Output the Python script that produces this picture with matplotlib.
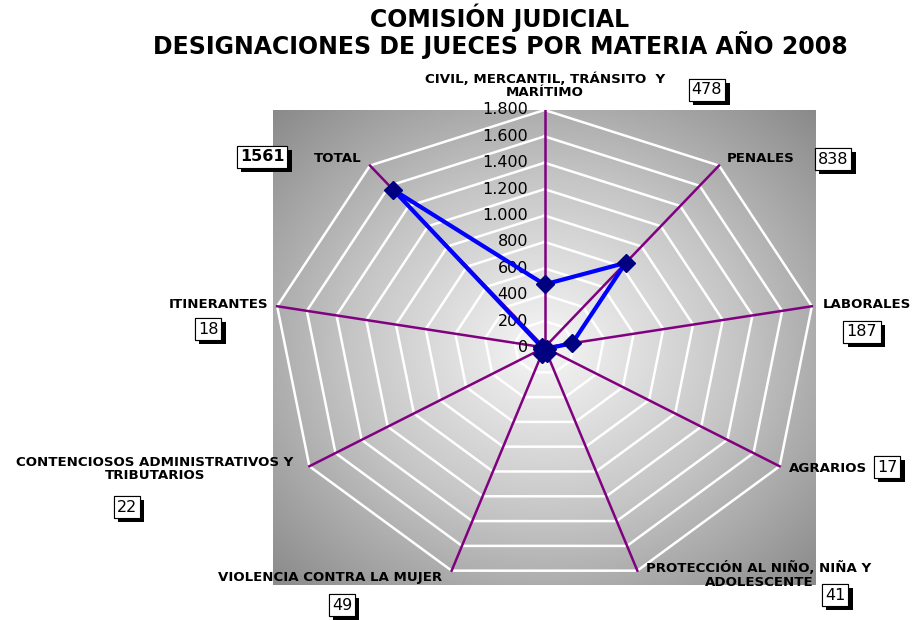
import numpy as np
import matplotlib
matplotlib.use('Agg')
import matplotlib.pyplot as plt
import matplotlib.patheffects as pe

categories = ['CIVIL, MERCANTIL, TRÁNSITO  Y\nMARÍTIMO', 'PENALES', 'LABORALES', 'AGRARIOS',
              'PROTECCIÓN AL NIÑO, NIÑA Y\nADOLESCENTE', 'VIOLENCIA CONTRA LA MUJER',
              'CONTENCIOSOS ADMINISTRATIVOS Y\nTRIBUTARIOS', 'ITINERANTES', 'TOTAL']
values = [478, 838, 187, 17, 41, 49, 22, 18, 1561]
ticks = [0, 200, 400, 600, 800, 1000, 1200, 1400, 1600, 1800]
tick_labels = ['0', '200', '400', '600', '800', '1.000', '1.200', '1.400', '1.600', '1.800']

W, H = 914, 620
fig = plt.figure(figsize=(W / 100, H / 100), dpi=100, facecolor='white')
ax = fig.add_axes([273 / W, 1 - 585 / H, 543 / W, 475 / H])
rmax = ticks[-1]
ax.set_xlim(-rmax, rmax)
ax.set_ylim(-rmax, rmax)
ax.axis('off')

# radial gradient background
g = np.linspace(-1, 1, 400)
gx, gy = np.meshgrid(g, g)
d = np.sqrt(gx ** 2 + gy ** 2) / np.sqrt(2)
ax.imshow(d, extent=(-rmax, rmax, -rmax, rmax), cmap=matplotlib.colors.LinearSegmentedColormap.from_list(
    'bg', ['#f6f6f6', '#c6c6c6', '#8a8a8a']), vmin=0, vmax=1, aspect='auto', zorder=0)

n = len(categories)
ang = np.arange(n) * 2 * np.pi / n
sx, cy = np.sin(ang), np.cos(ang)

# grid polygons
for t in ticks[1:]:
    ax.plot(np.append(t * sx, t * sx[0]), np.append(t * cy, t * cy[0]), color='white', lw=1.8, zorder=1)
# spokes
for i in range(n):
    ax.plot([0, rmax * sx[i]], [0, rmax * cy[i]], color='#800080', lw=1.8, zorder=2)

# tick labels
for t, lab in zip(ticks, tick_labels):
    ax.text(-110, t, lab, ha='right', va='center', fontsize=11.5, color='black', zorder=3)

v = np.array(values, dtype=float)
ax.plot(np.append(v * sx, v[0] * sx[0]), np.append(v * cy, v[0] * cy[0]), color='#0000ff', lw=3, zorder=4)
ax.plot(v * sx, v * cy, 'D', color='#000080', ms=9, zorder=5)

# title
fig.text(500 / W, 1 - 18 / H, 'COMISIÓN JUDICIAL', ha='center', va='center', fontsize=17, fontweight='bold')
fig.text(500 / W, 1 - 45 / H, 'DESIGNACIONES DE JUECES POR MATERIA AÑO 2008', ha='center', va='center',
         fontsize=17, fontweight='bold')

# category labels (x, y, ha)
label_pos = [(545, 86, 'center'), (727, 158, 'left'), (823, 305, 'left'), (789, 468, 'left'),
             (759, 575, 'center'), (330, 577, 'center'), (155, 469, 'center'), (268, 305, 'right'),
             (362, 158, 'right')]
box_pos = [(707, 90), (833, 159), (862, 332), (887, 467), (835, 595), (342, 605), (127, 507), (208, 329),
           (262, 157)]
for i in range(n):
    x, y, ha = label_pos[i]
    fig.text(x / W, 1 - y / H, categories[i], ha=ha, va='center', fontsize=9.6, fontweight='bold',
             multialignment='center', linespacing=1.0)
    bx, by = box_pos[i]
    t = fig.text(bx / W, 1 - by / H, str(values[i]), ha='center', va='center', fontsize=11.5,
                 fontweight='bold' if i == n - 1 else 'normal',
                 bbox=dict(boxstyle='square,pad=0.2', fc='white', ec='black', lw=0.8))
    t.get_bbox_patch().set_path_effects([pe.withSimplePatchShadow(offset=(3, -3), shadow_rgbFace='black',
                                                                  alpha=1.0), pe.Normal()])

fig.savefig('out.png', dpi=100)
